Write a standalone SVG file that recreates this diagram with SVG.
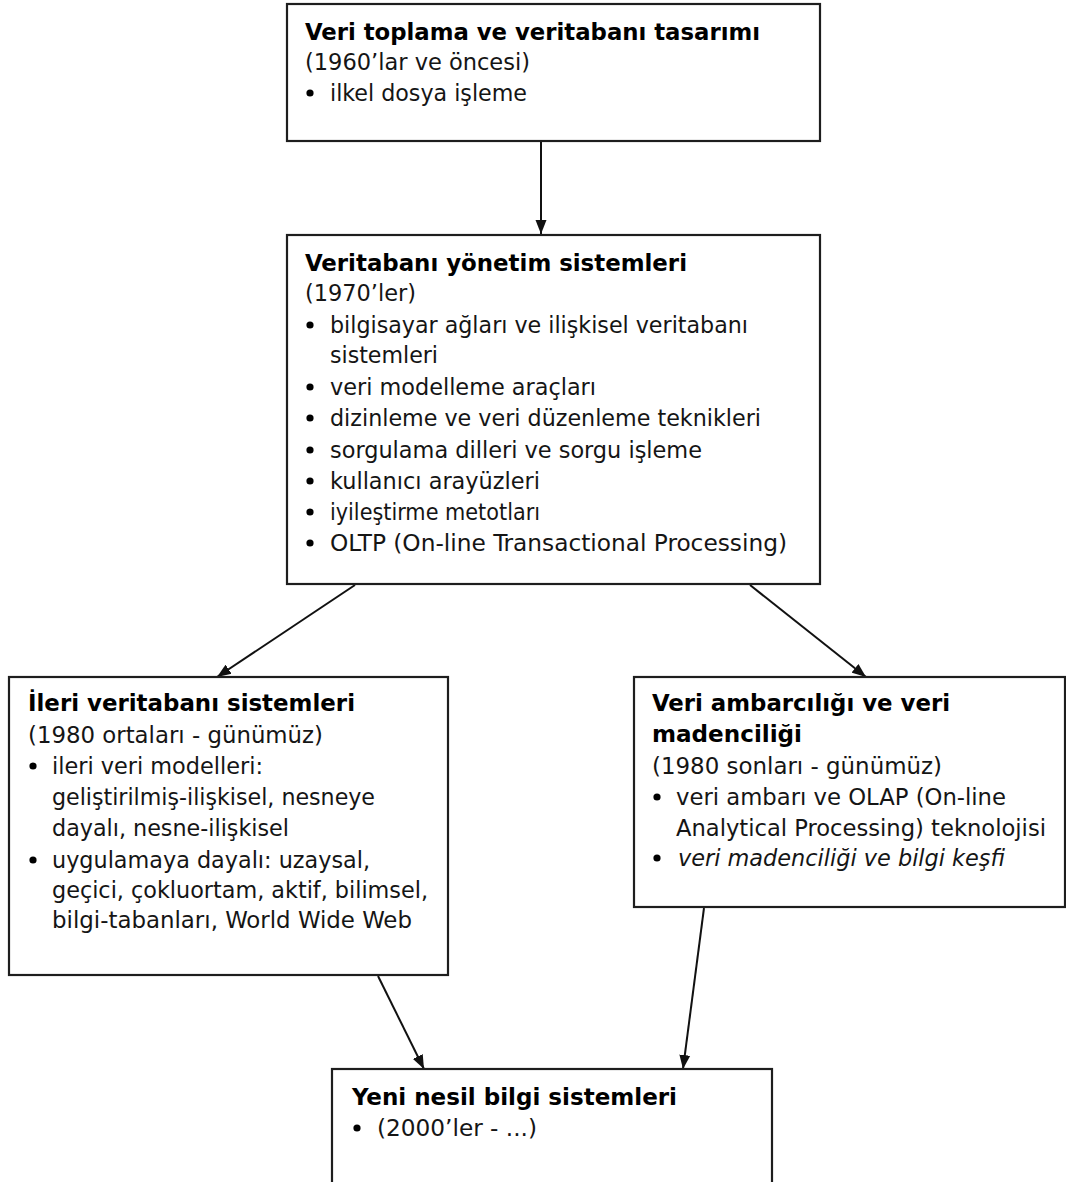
<svg xmlns="http://www.w3.org/2000/svg" width="1066" height="1182" viewBox="0 0 1066 1182">
  <style>
    .box { fill: #ffffff; stroke: #1e1e1e; stroke-width: 2.2; }
    .edge { fill: none; stroke: #111111; stroke-width: 2; }
    text { font-family: "DejaVu Sans", Verdana, sans-serif; font-size: 23px; fill: #151515; font-stretch: condensed; }
    .title { font-weight: bold; fill: #000000; }
    .it { font-style: italic; }
    .dot { fill: #000000; }
  </style>
  <defs>
    <marker id="arrow" viewBox="0 0 14 12" refX="14" refY="6" markerWidth="14" markerHeight="12" markerUnits="userSpaceOnUse" orient="auto">
      <path d="M0,0.5 L14,6 L0,11.5 Z" fill="#111111"/>
    </marker>
  </defs>

  <rect width="1066" height="1182" fill="#ffffff"/>

  <!-- connectors -->
  <g id="connectors">
    <line class="edge" x1="541" y1="142" x2="541" y2="234" marker-end="url(#arrow)"/>
    <line class="edge" x1="355" y1="585" x2="217" y2="677" marker-end="url(#arrow)"/>
    <line class="edge" x1="750" y1="585" x2="866" y2="677" marker-end="url(#arrow)"/>
    <line class="edge" x1="378" y1="976" x2="424" y2="1069" marker-end="url(#arrow)"/>
    <line class="edge" x1="704" y1="908" x2="683" y2="1069" marker-end="url(#arrow)"/>
  </g>

  <!-- 1960s -->
  <g id="node-1960">
    <rect class="box" x="287" y="4" width="533" height="137"/>
    <text class="title" x="305" y="40" textLength="455" lengthAdjust="spacingAndGlyphs">Veri toplama ve veritabanı tasarımı</text>
    <text x="305" y="70" textLength="225" lengthAdjust="spacingAndGlyphs">(1960’lar ve öncesi)</text>
    <circle class="dot" cx="310" cy="93" r="3.6"/>
    <text x="330" y="101" textLength="197" lengthAdjust="spacingAndGlyphs">ilkel dosya işleme</text>
  </g>

  <!-- 1970s -->
  <g id="node-1970">
    <rect class="box" x="287" y="235" width="533" height="349"/>
    <text class="title" x="305" y="271" textLength="382" lengthAdjust="spacingAndGlyphs">Veritabanı yönetim sistemleri</text>
    <text x="305" y="301" textLength="111" lengthAdjust="spacingAndGlyphs">(1970’ler)</text>
    <circle class="dot" cx="310" cy="325" r="3.6"/>
    <text x="330" y="333" textLength="418" lengthAdjust="spacingAndGlyphs">bilgisayar ağları ve ilişkisel veritabanı</text>
    <text x="330" y="363" textLength="108" lengthAdjust="spacingAndGlyphs">sistemleri</text>
    <circle class="dot" cx="310" cy="387" r="3.6"/>
    <text x="330" y="395" textLength="266" lengthAdjust="spacingAndGlyphs">veri modelleme araçları</text>
    <circle class="dot" cx="310" cy="418" r="3.6"/>
    <text x="330" y="426" textLength="431" lengthAdjust="spacingAndGlyphs">dizinleme ve veri düzenleme teknikleri</text>
    <circle class="dot" cx="310" cy="450" r="3.6"/>
    <text x="330" y="458" textLength="372" lengthAdjust="spacingAndGlyphs">sorgulama dilleri ve sorgu işleme</text>
    <circle class="dot" cx="310" cy="481" r="3.6"/>
    <text x="330" y="489" textLength="210" lengthAdjust="spacingAndGlyphs">kullanıcı arayüzleri</text>
    <circle class="dot" cx="310" cy="512" r="3.6"/>
    <text x="330" y="520" textLength="210" lengthAdjust="spacingAndGlyphs">iyileştirme metotları</text>
    <circle class="dot" cx="310" cy="543" r="3.6"/>
    <text x="330" y="551" textLength="457" lengthAdjust="spacingAndGlyphs">OLTP (On-line Transactional Processing)</text>
  </g>

  <!-- advanced database systems -->
  <g id="node-advanced">
    <rect class="box" x="9" y="677" width="439" height="298"/>
    <text class="title" x="28" y="711" textLength="327" lengthAdjust="spacingAndGlyphs">İleri veritabanı sistemleri</text>
    <text x="28" y="743" textLength="295" lengthAdjust="spacingAndGlyphs">(1980 ortaları - günümüz)</text>
    <circle class="dot" cx="33" cy="766" r="3.6"/>
    <text x="52" y="774" textLength="211" lengthAdjust="spacingAndGlyphs">ileri veri modelleri:</text>
    <text x="52" y="805" textLength="323" lengthAdjust="spacingAndGlyphs">geliştirilmiş-ilişkisel, nesneye</text>
    <text x="52" y="836" textLength="237" lengthAdjust="spacingAndGlyphs">dayalı, nesne-ilişkisel</text>
    <circle class="dot" cx="33" cy="860" r="3.6"/>
    <text x="52" y="868" textLength="318" lengthAdjust="spacingAndGlyphs">uygulamaya dayalı: uzaysal,</text>
    <text x="52" y="898" textLength="376" lengthAdjust="spacingAndGlyphs">geçici, çokluortam, aktif, bilimsel,</text>
    <text x="52" y="928" textLength="360" lengthAdjust="spacingAndGlyphs">bilgi-tabanları, World Wide Web</text>
  </g>

  <!-- data warehousing and mining -->
  <g id="node-warehouse">
    <rect class="box" x="634" y="677" width="431" height="230"/>
    <text class="title" x="652" y="711" textLength="298" lengthAdjust="spacingAndGlyphs">Veri ambarcılığı ve veri</text>
    <text class="title" x="652" y="742" textLength="150" lengthAdjust="spacingAndGlyphs">madenciliği</text>
    <text x="652" y="774" textLength="290" lengthAdjust="spacingAndGlyphs">(1980 sonları - günümüz)</text>
    <circle class="dot" cx="657" cy="797" r="3.6"/>
    <text x="676" y="805" textLength="330" lengthAdjust="spacingAndGlyphs">veri ambarı ve OLAP (On-line</text>
    <text x="676" y="836" textLength="370" lengthAdjust="spacingAndGlyphs">Analytical Processing) teknolojisi</text>
    <circle class="dot" cx="657" cy="858" r="3.6"/>
    <text class="it" x="678" y="866" textLength="327" lengthAdjust="spacingAndGlyphs">veri madenciliği ve bilgi keşfi</text>
  </g>

  <!-- next generation -->
  <g id="node-next">
    <rect class="box" x="332" y="1069" width="440" height="130"/>
    <text class="title" x="352" y="1105" textLength="325" lengthAdjust="spacingAndGlyphs">Yeni nesil bilgi sistemleri</text>
    <circle class="dot" cx="357" cy="1128" r="3.6"/>
    <text x="377" y="1136" textLength="160" lengthAdjust="spacingAndGlyphs">(2000’ler - ...)</text>
  </g>
</svg>
